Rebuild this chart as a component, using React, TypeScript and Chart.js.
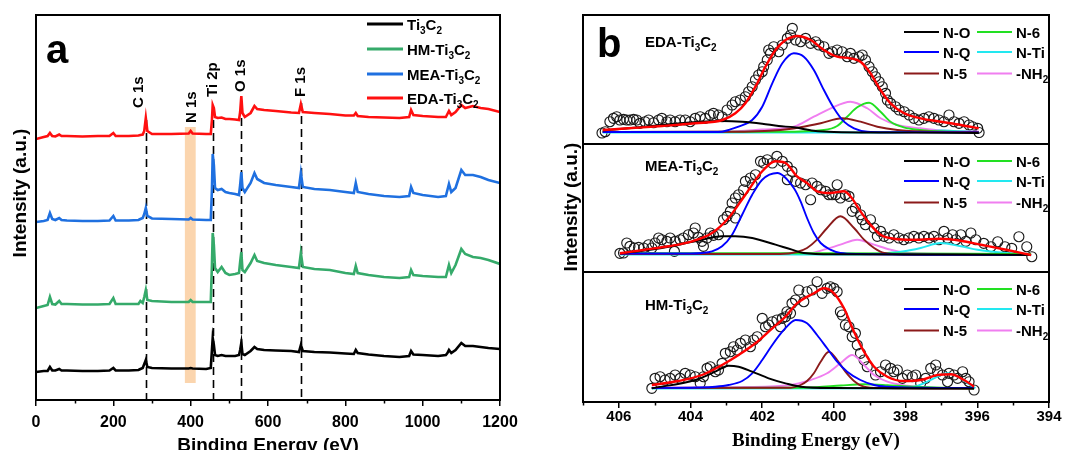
import React, { useEffect, useRef } from "react";
import { Chart, registerables } from "chart.js";

Chart.register(...registerables);

const SANS = "'Liberation Sans', Arial, Helvetica, sans-serif";
const SERIF = "'Liberation Serif', 'Times New Roman', serif";

// ---------------- Panel a : XPS survey ----------------
const surveyEnergy = [0, 20, 30, 36, 42, 50, 60, 66, 80, 120, 160, 190, 200, 206, 240, 265, 270, 276, 280, 284, 288, 300, 350, 395, 400, 405, 440, 452, 455, 457, 460, 463, 470, 480, 490, 500, 515, 525, 528, 531, 534, 540, 555, 565, 572, 590, 620, 660, 680, 685, 690, 720, 760, 800, 822, 827, 832, 860, 900, 940, 965, 970, 976, 1000, 1040, 1060, 1064, 1068, 1074, 1085, 1100, 1110, 1130, 1150, 1170, 1200];
const ti3c2 = [28, 29, 29, 33, 29.5, 29.5, 31, 29.5, 29.5, 29, 29, 29.5, 32, 29.5, 29.5, 30, 31, 32, 36, 40, 33, 32, 31.5, 31.5, 32, 31.5, 31, 32, 50, 62, 55, 45, 44, 45, 44, 44, 44, 45, 50, 57, 46, 45, 49, 53, 51, 50, 49.5, 49, 48, 55, 49, 48, 47.5, 46.5, 46, 50, 47, 45.5, 44, 43, 44, 49, 45.5, 45, 44, 45, 47, 50, 47, 50, 57, 54, 54, 53, 52, 51];
const hmTi3c2 = [92, 94, 95, 103, 96, 95.5, 99, 96, 96, 95.5, 95.5, 96, 102, 96, 96, 96, 99, 97, 103, 110, 100, 99, 98, 98, 100, 98, 98, 98, 135, 167, 155, 132, 128, 133, 127, 125, 126, 127, 138, 148, 130, 128, 137, 145, 139, 137, 135, 133, 132, 147, 133, 131, 130, 127, 126, 134, 127, 125, 123, 122, 123, 130, 125, 124, 123, 123, 129, 135, 127, 135, 151, 146, 143, 142, 140, 136];
const meaTi3c2 = [178, 179, 180, 187, 181, 180, 182, 180, 179.5, 179, 179, 179.5, 184, 179.5, 179.5, 180, 181, 182, 186, 192, 184, 181.5, 181, 180.5, 182, 180.5, 180, 180, 210, 246, 235, 212, 210, 211, 208, 207, 206, 205, 215, 228, 212, 208, 217, 227, 221, 217, 215, 213, 212, 227, 213, 211, 210, 208, 207, 217, 208, 206, 204, 203, 204, 213, 207, 205, 203, 204, 210, 216, 208, 212, 230, 225, 225, 223, 220, 217];
const edaTi3c2 = [261, 263, 264, 267, 264, 263.5, 265.5, 264, 264, 263.5, 264, 264, 267, 264, 264, 264.5, 265, 265.5, 269, 282, 269, 266, 266, 266.5, 269, 266.5, 266, 266, 280, 295, 292, 283, 282, 282.5, 281, 281, 280.5, 280, 288, 304, 287, 283, 287, 294, 291, 290, 289, 287.5, 287, 296, 288, 287, 286, 284.5, 284.5, 287, 284, 283, 282.5, 282, 283, 290, 285, 284, 283, 283, 286, 289, 285, 288, 295, 292, 294, 292, 291, 288];
const surveyNames = ["Ti_3C_2", "HM-Ti_3C_2", "MEA-Ti_3C_2", "EDA-Ti_3C_2"];
const surveyColors = ["#000000", "#35aa6a", "#1f70e0", "#ff1010"];

const peakNames = ["C 1s", "N 1s", "Ti 2p", "O 1s", "F 1s"];
const peakEnergy = [284, 400, 457, 531, 685];
const peakLineTop: (number | null)[] = [280, null, 293, 282, 297];
const peakLabelEnergy = [267, 404, 457, 531, 685];
const peakLabelStart = [292, 277, 303, 308, 303];
const n1sBandEnergy = [385, 413];
const n1sBandIntensity = [17, 273];

// ---------------- Panel b : N 1s fits ----------------
type P = [number, number][];
const compNames = ["N-O", "N-Q", "N-5", "N-6", "N-Ti", "-NH_2"];
const compColors = ["#000000", "#0000ff", "#8b1a1a", "#22e022", "#22e8f0", "#f07ef0"];

// EDA
const edaPoints: P = [
  [406.47, 11], [406.38, 12.3], [406.25, 22.3], [406.15, 25.7], [406.06, 27.3], [405.97, 24], [405.87, 24.7], [405.78, 24], [405.69, 24], [405.59, 24.7],
  [405.5, 24], [405.41, 20.7], [405.27, 22.3], [405.17, 24], [405.03, 21.3], [404.89, 24], [404.8, 25.7], [404.66, 22.3], [404.57, 24], [404.43, 22.3],
  [404.29, 24], [404.15, 24], [404.01, 22.3], [403.87, 25.7], [403.73, 27.3], [403.59, 25.7], [403.45, 29], [403.36, 30.7], [403.22, 29], [403.12, 27.3],
  [402.98, 34], [402.84, 39], [402.75, 42.3], [402.61, 44], [402.47, 47.3], [402.38, 52.3], [402.28, 57.3], [402.19, 64], [402.1, 69], [402, 72.3],
  [401.96, 77.3], [401.86, 84], [401.82, 94], [401.77, 90.7], [401.68, 97.3], [401.54, 92.3], [401.44, 99], [401.3, 105.7], [401.21, 109], [401.16, 115.7],
  [401.07, 104], [400.93, 102.3], [400.79, 105.7], [400.65, 100.7], [400.51, 102.3], [400.42, 99], [400.28, 97.3], [400.14, 90.7], [400.05, 92.3], [399.91, 94],
  [399.77, 92.3], [399.63, 87.3], [399.54, 90.7], [399.44, 85.7], [399.3, 87.3], [399.21, 89], [399.12, 84], [399.02, 77.3], [398.93, 72.3], [398.84, 67.3],
  [398.74, 62.3], [398.65, 57.3], [398.56, 50.7], [398.51, 44], [398.42, 40.7], [398.28, 37.3], [398.18, 34], [398.04, 32.3], [397.9, 29], [397.77, 25.7],
  [397.63, 24], [397.49, 25.7], [397.35, 27.3], [397.21, 25.7], [397.07, 24], [396.93, 22.3], [396.79, 29], [396.65, 22.3], [396.51, 20.7], [396.37, 22.3],
  [396.23, 19], [396.13, 17.3], [395.99, 15.7], [395.95, 11.5],
];
const edaFit: P = [[406.45, 14], [405.74, 15.7], [404.79, 18], [403.87, 20.7], [403.11, 24], [402.75, 30.7], [402.47, 40.7], [402.19, 57.3], [401.91, 77.3], [401.63, 94], [401.35, 104], [401.13, 107.3], [401.03, 108], [400.65, 104], [400.28, 94], [399.91, 87.3], [399.54, 85.7], [399.26, 82.3], [398.98, 70.7], [398.7, 54], [398.42, 40.7], [398.04, 30.7], [397.58, 25.7], [397.02, 22.3], [396.46, 19], [395.96, 15.7]];
const edaNO: P = [[406.45, 13.5], [405.5, 16.5], [404.8, 19], [404, 21.5], [403.12, 23], [402.56, 22.3], [402, 20.3], [401.54, 18], [401.12, 16.7], [400.57, 13.3], [400, 12], [398.5, 11.5], [395.96, 11]];
const edaNQ: P = [[406.45, 12], [403.4, 12], [403.12, 12.3], [402.94, 14], [402.66, 17.3], [402.28, 24], [402, 37.3], [401.72, 60.7], [401.44, 80.7], [401.12, 90.7], [400.84, 87.3], [400.56, 74], [400.28, 54], [400, 35.7], [399.72, 22.3], [399.44, 15.7], [399.07, 12.3], [398.5, 11.8], [395.96, 11.5]];
const edaN5: P = [[406.45, 12], [402.5, 12.3], [401.7, 13.5], [401.31, 14.7], [400.93, 16.7], [400.37, 20.7], [399.77, 25.7], [399.26, 22.3], [398.79, 17.3], [398.23, 14], [397.5, 12.5], [395.96, 12]];
const edaN6: P = [[406.45, 12], [401.5, 12.2], [400.28, 14], [399.91, 18], [399.63, 27.3], [399.35, 36.7], [399.02, 41.3], [398.7, 32.3], [398.42, 22.3], [398.05, 16.7], [397.58, 14], [397, 12.5], [395.96, 12]];
const edaNTi: P = [[406.45, 11.5], [398.5, 11.5], [397.5, 12.5], [397, 13.5], [396.5, 12.8], [395.96, 12]];
const edaNH2: P = [[406.45, 12], [403, 12.5], [402, 14.5], [401.12, 17.3], [400.56, 27.3], [400.09, 35.7], [399.54, 42.3], [399.07, 35.7], [398.7, 25.7], [398.23, 19], [397.58, 15.7], [397, 13.5], [395.96, 12.5]];

// MEA
const meaPoints: P = [
  [405.97, 18.7], [405.87, 19], [405.78, 29], [405.69, 25.7], [405.57, 24], [405.45, 24.7], [405.31, 24], [405.17, 27.3], [405.08, 24], [404.99, 29],
  [404.89, 34], [404.8, 32.3], [404.66, 30.7], [404.57, 34], [404.45, 20.7], [404.43, 30.7], [404.29, 32.3], [404.2, 34], [404.06, 37.3], [403.92, 39],
  [403.87, 44], [403.78, 34.7], [403.68, 30.7], [403.64, 25.7], [403.54, 34], [403.45, 39], [403.36, 36.7], [403.22, 37.3], [403.08, 52.3], [402.98, 55.7],
  [402.89, 60.7], [402.75, 54], [402.84, 69], [402.75, 74], [402.66, 77.3], [402.52, 82.3], [402.47, 90.7], [402.33, 94], [402.28, 87.3], [402.19, 97.3],
  [402.05, 110.7], [401.96, 109], [401.86, 112.3], [401.72, 109], [401.59, 115.7], [401.44, 110.7], [401.3, 105.7], [401.17, 100.7], [401.3, 92.3], [401.07, 90.7],
  [400.93, 89], [400.79, 87.3], [400.65, 72.3], [400.61, 89], [400.47, 85.7], [400.37, 82.3], [400.23, 80.7], [400.14, 77.3], [400.05, 77.3], [399.91, 87.3],
  [399.95, 77.3], [399.82, 74], [399.68, 77.3], [399.58, 75.7], [399.49, 60.7], [399.4, 64], [399.26, 57.3], [399.21, 52.3], [399.12, 47.3], [398.98, 52.3],
  [398.88, 44], [398.79, 35.7], [398.7, 40.7], [398.6, 35.7], [398.46, 34], [398.33, 37.3], [398.19, 34], [398.05, 32.3], [397.91, 34], [397.77, 35.7],
  [397.63, 34], [397.49, 35.7], [397.35, 34], [397.21, 35.7], [397.07, 32.3], [396.93, 40.7], [396.83, 34], [396.69, 37.3], [396.6, 32.3], [396.46, 37.3],
  [396.32, 30.7], [396.18, 39], [396.04, 32.3], [395.82, 28.7], [395.62, 25.3], [395.43, 30.3], [395.23, 25.3], [395.04, 23.7], [394.84, 35.3], [394.62, 25.3],
  [394.48, 15.3],
];
const meaFit: P = [[405.97, 18.7], [405.27, 22.3], [404.62, 25.7], [403.96, 30.7], [403.4, 39], [402.94, 54], [402.47, 77.3], [402, 100.7], [401.63, 110.7], [401.35, 109], [401.03, 95.7], [400.75, 89], [400.47, 80.7], [400.1, 79], [399.72, 80.7], [399.54, 75.7], [399.26, 60.7], [398.98, 47.3], [398.7, 37.3], [398.33, 33.3], [397.77, 32.3], [397.02, 33.3], [396.46, 31.3], [395.9, 27.3], [395.16, 22], [394.5, 17]];
const meaNO: P = [[405.97, 18.7], [405.87, 19], [404.8, 24], [403.87, 30.7], [403.12, 35.7], [402.75, 35.7], [402.28, 34], [401.63, 27.3], [401.17, 22.3], [400.84, 19], [400, 17.7], [397, 17.5], [394.5, 17]];
const meaNQ: P = [[405.97, 18.5], [404, 18.5], [403.68, 19], [403.4, 20.7], [403.12, 25.7], [402.84, 37.3], [402.56, 57.3], [402.28, 77.3], [402, 92.3], [401.58, 99], [401.12, 84], [400.93, 70.7], [400.75, 54], [400.56, 39], [400.37, 29], [400.1, 22.3], [399.82, 19], [399.3, 18], [394.5, 17]];
const meaN5: P = [[405.97, 18], [401.5, 18], [401.03, 20], [400.75, 24], [400.47, 32.3], [400.19, 44], [399.82, 55.7], [399.44, 44], [399.16, 32.3], [398.88, 24], [398.6, 19], [398, 17.5], [394.5, 17]];
const meaN6: P = [[405.97, 18.8], [400, 18.7], [394.5, 18]];
const meaNTi: P = [[405.97, 17.5], [399.5, 17.5], [398.5, 19], [398.04, 20.7], [397.58, 24], [397.02, 29], [396.46, 25.7], [395.99, 22.3], [395.2, 19], [394.5, 17]];
const meaNH2: P = [[405.97, 18], [401.5, 18.3], [400.65, 19], [400.28, 22.3], [399.82, 27.3], [399.35, 32.3], [398.88, 27.3], [398.42, 22.3], [397.95, 19], [397, 18], [394.5, 17.5]];

// HM
const hmPoints: P = [
  [405.08, 13.7], [404.99, 23.7], [404.85, 25.3], [404.71, 22], [404.57, 23.7], [404.43, 27], [404.29, 23.7], [404.15, 28.7], [404.01, 27], [403.87, 25.3],
  [403.73, 18.7], [403.64, 25.3], [403.54, 33.7], [403.45, 35.3], [403.31, 30.3], [403.22, 32], [403.12, 38.7], [403.03, 48.7], [402.89, 50.3], [402.8, 55.3],
  [402.7, 52], [402.61, 58.7], [402.47, 62], [402.33, 55.3], [402.24, 62], [402.14, 65.3], [402, 83.7], [401.91, 75.3], [401.82, 77], [401.72, 80.3],
  [401.59, 82], [401.49, 75.3], [401.44, 83.7], [401.35, 85.3], [401.31, 90.3], [401.21, 88.7], [401.17, 98.7], [401.07, 102], [400.98, 112], [400.84, 100.3],
  [400.75, 110.3], [400.61, 112], [400.47, 120.3], [400.33, 108.7], [400.19, 113.7], [400.1, 115.3], [400, 113.7], [399.91, 110.3], [399.82, 90.3], [399.77, 87],
  [399.68, 77], [399.58, 75.3], [399.49, 65.3], [399.4, 68.7], [399.35, 57], [399.26, 48.7], [399.16, 42], [399.07, 35.3], [398.84, 27], [398.7, 30.3],
  [398.56, 37], [398.42, 33.7], [398.33, 30.3], [398.23, 32], [398.09, 23.7], [397.95, 27], [397.81, 25.3], [397.72, 27], [397.58, 18.7], [397.44, 23.7],
  [397.3, 33.7], [397.16, 37], [397.11, 30.3], [396.97, 27], [396.83, 20.3], [396.79, 28.7], [396.65, 27], [396.55, 23.7], [396.41, 30.3], [396.32, 23.7],
  [396.23, 20.3], [396.09, 12],
];
const hmFit: P = [[405.08, 17], [404.34, 21], [403.68, 27], [403.12, 37], [402.66, 47], [402.19, 58.7], [401.72, 73.7], [401.35, 85.3], [401.03, 98.7], [400.56, 108.7], [400.28, 113.7], [400, 108.7], [399.72, 93.7], [399.44, 70.3], [399.16, 50.3], [398.88, 35.3], [398.51, 25.3], [398.05, 21], [397.58, 22], [397.11, 27], [396.74, 27.7], [396.37, 22], [396.09, 15.3]];
const hmNO: P = [[405.08, 13.7], [403.87, 22], [403.31, 30.3], [402.94, 36.3], [402.66, 35.3], [402.28, 30.3], [401.82, 23.7], [401.35, 18.7], [400.93, 15.3], [400, 14], [396.09, 13.5]];
const hmNQ: P = [[405.08, 14], [403.8, 14.5], [403.31, 15.3], [402.94, 17], [402.56, 21], [402.28, 28.7], [402, 42], [401.72, 57], [401.44, 70.3], [401.17, 80.3], [401.07, 82], [400.75, 78.7], [400.47, 67], [400.19, 53.7], [399.91, 40.3], [399.63, 30.3], [399.26, 22], [398.88, 17], [398.51, 15.3], [397.5, 14.3], [396.09, 14]];
const hmN5: P = [[405.08, 14], [401.2, 14.3], [400.93, 17], [400.75, 21], [400.56, 28.7], [400.37, 40.3], [400.14, 50.3], [399.91, 42], [399.68, 30.3], [399.44, 21], [399.16, 15.3], [398.7, 14], [396.09, 13.5]];
const hmN6: P = [[405.08, 14], [401, 14.2], [400.47, 14.8], [399.8, 16.5], [399.16, 17.7], [398.5, 16.8], [397.77, 15.3], [397, 14.2], [396.09, 13.5]];
const hmNTi: P = [[405.08, 13.5], [398.2, 13.8], [397.77, 15.3], [397.49, 18.7], [397.21, 23.7], [396.83, 28.7], [396.46, 23.7], [396.13, 15.3], [396.05, 14]];
const hmNH2: P = [[405.08, 14.3], [402.5, 15], [401.21, 17], [400.65, 22], [400.19, 28.7], [399.82, 38.7], [399.49, 47], [399.16, 37], [398.88, 27], [398.51, 20.3], [397.95, 16.3], [397.3, 14.3], [396.09, 14]];

const bTicksMajor = [394, 396, 398, 400, 402, 404, 406];

// ---------------- helpers ----------------
function drawRich(ctx: CanvasRenderingContext2D, text: string, x: number, y: number, size: number, family: string, align: "left" | "center" = "left") {
  const segs: { t: string; sub: boolean }[] = [];
  for (let i = 0; i < text.length; i++) {
    if (text[i] === "_" && i + 1 < text.length) {
      segs.push({ t: text[i + 1], sub: true });
      i++;
    } else {
      const last = segs[segs.length - 1];
      if (last && !last.sub) last.t += text[i];
      else segs.push({ t: text[i], sub: false });
    }
  }
  const fN = `bold ${size}px ${family}`;
  const fS = `bold ${Math.round(size * 0.68)}px ${family}`;
  let w = 0;
  for (const s of segs) {
    ctx.font = s.sub ? fS : fN;
    w += ctx.measureText(s.t).width;
  }
  let cx = align === "center" ? x - w / 2 : x;
  ctx.textAlign = "left";
  ctx.textBaseline = "alphabetic";
  for (const s of segs) {
    ctx.font = s.sub ? fS : fN;
    ctx.fillText(s.t, cx, s.sub ? y + size * 0.27 : y);
    cx += ctx.measureText(s.t).width;
  }
}

function frame(ctx: CanvasRenderingContext2D, a: any) {
  ctx.save();
  ctx.strokeStyle = "#000";
  ctx.lineWidth = 2;
  ctx.strokeRect(a.left, a.top, a.right - a.left, a.bottom - a.top);
  ctx.restore();
}

// ---------------- Panel a chart ----------------
function SurveyChart() {
  const ref = useRef<HTMLCanvasElement>(null);
  useEffect(() => {
    const series = [ti3c2, hmTi3c2, meaTi3c2, edaTi3c2];
    const datasets = series.map((vals, i) => ({
      label: surveyNames[i],
      data: surveyEnergy.map((e, k) => ({ x: e, y: vals[k] })),
      borderColor: surveyColors[i],
      borderWidth: 2.6,
      pointRadius: 0,
      tension: 0,
    }));
    const deco = {
      id: "surveyDeco",
      beforeDatasetsDraw(chart: any) {
        const { ctx, chartArea: a, scales } = chart;
        const x = scales.x, y = scales.y;
        ctx.save();
        const x0 = x.getPixelForValue(n1sBandEnergy[0]);
        const x1 = x.getPixelForValue(n1sBandEnergy[1]);
        const yt = y.getPixelForValue(n1sBandIntensity[1]);
        const yb = y.getPixelForValue(n1sBandIntensity[0]);
        ctx.fillStyle = "#fbd5ae";
        ctx.fillRect(x0, yt, x1 - x0, yb - yt);
        ctx.strokeStyle = "#000";
        ctx.lineWidth = 1.6;
        ctx.setLineDash([8, 5]);
        peakEnergy.forEach((e, i) => {
          const top = peakLineTop[i];
          if (top == null) return;
          const px = Math.round(x.getPixelForValue(e)) + 0.5;
          ctx.beginPath();
          ctx.moveTo(px, y.getPixelForValue(top));
          ctx.lineTo(px, a.bottom);
          ctx.stroke();
        });
        ctx.restore();
      },
      afterDraw(chart: any) {
        const { ctx, chartArea: a, scales } = chart;
        const x = scales.x, y = scales.y;
        frame(ctx, a);
        ctx.save();
        ctx.strokeStyle = "#000";
        ctx.lineWidth = 1.5;
        for (let e = 100; e < 1200; e += 200) {
          const px = Math.round(x.getPixelForValue(e)) + 0.5;
          ctx.beginPath();
          ctx.moveTo(px, a.bottom);
          ctx.lineTo(px, a.bottom + 3.5);
          ctx.stroke();
        }
        ctx.fillStyle = "#000";
        ctx.font = `bold 15px ${SANS}`;
        peakNames.forEach((n, i) => {
          const px = x.getPixelForValue(peakLabelEnergy[i]);
          const py = y.getPixelForValue(peakLabelStart[i]);
          ctx.save();
          ctx.translate(px, py);
          ctx.rotate(-Math.PI / 2);
          ctx.textAlign = "left";
          ctx.textBaseline = "middle";
          ctx.fillText(n, 0, 0);
          ctx.restore();
        });
        // legend
        const rows = [24, 49, 74, 98];
        surveyNames.forEach((n, i) => {
          ctx.strokeStyle = surveyColors[i];
          ctx.lineWidth = 3;
          ctx.beginPath();
          ctx.moveTo(367, rows[i]);
          ctx.lineTo(403, rows[i]);
          ctx.stroke();
          ctx.fillStyle = "#000";
          drawRich(ctx, n, 407, rows[i] + 5.5, 15, SANS);
        });
        // panel letter
        ctx.fillStyle = "#000";
        ctx.font = `bold 40px ${SANS}`;
        ctx.textAlign = "left";
        ctx.textBaseline = "alphabetic";
        ctx.fillText("a", 46, 63);
        // titles
        ctx.font = `bold 19px ${SANS}`;
        ctx.textAlign = "center";
        ctx.fillText("Binding Energy (eV)", (a.left + a.right) / 2, 451);
        ctx.save();
        ctx.translate(21, 193);
        ctx.rotate(-Math.PI / 2);
        ctx.textBaseline = "middle";
        ctx.fillText("Intensity (a.u.)", 0, 0);
        ctx.restore();
        ctx.restore();
      },
    };
    const chart = new Chart(ref.current as HTMLCanvasElement, {
      type: "line",
      data: { datasets },
      options: {
        responsive: false,
        animation: false,
        devicePixelRatio: 1,
        layout: { padding: { left: 36, top: 15, right: 40, bottom: 0 } },
        plugins: { legend: { display: false }, tooltip: { enabled: false } },
        scales: {
          x: {
            type: "linear",
            min: 0,
            max: 1200,
            ticks: { stepSize: 200, color: "#000", padding: 7, maxRotation: 0, font: { family: SANS, size: 16, weight: "bold" }, callback: (v: any) => String(v) },
            grid: { drawOnChartArea: false, drawTicks: true, tickLength: 6, color: "#000", lineWidth: 1.5 },
            border: { display: false },
            afterFit: (s: any) => { s.height = 50; },
          },
          y: { display: false, min: 0, max: 385 },
        },
      } as any,
      plugins: [deco],
    });
    return () => chart.destroy();
  }, []);
  return <canvas ref={ref} width={540} height={450} style={{ position: "absolute", left: 0, top: 0, width: 540, height: 450 }} />;
}

// ---------------- Panel b charts ----------------
type Sub = {
  name: string;
  points: P;
  fit: P;
  comps: P[];
  top: number;
  bottomPad: number;
  yMax: number;
  showAxis: boolean;
  labelDy: number;
  first: boolean;
};

const subs: Sub[] = [
  { name: "EDA-Ti_3C_2", points: edaPoints, fit: edaFit, comps: [edaNO, edaNQ, edaN5, edaN6, edaNTi, edaNH2], top: 15, bottomPad: 306, yMax: 129, showAxis: false, labelDy: 32, first: true },
  { name: "MEA-Ti_3C_2", points: meaPoints, fit: meaFit, comps: [meaNO, meaNQ, meaN5, meaN6, meaNTi, meaNH2], top: 144, bottomPad: 178, yMax: 128, showAxis: false, labelDy: 27, first: false },
  { name: "HM-Ti_3C_2", points: hmPoints, fit: hmFit, comps: [hmNO, hmNQ, hmN5, hmN6, hmNTi, hmNH2], top: 272, bottomPad: 0, yMax: 130, showAxis: true, labelDy: 38, first: false },
];

function FitChart({ sub }: { sub: Sub }) {
  const ref = useRef<HTMLCanvasElement>(null);
  useEffect(() => {
    const toXY = (p: P) => p.map(([x, y]) => ({ x, y }));
    const datasets: any[] = [
      { label: "fit", data: toXY(sub.fit), borderColor: "#ff0000", borderWidth: 2.4, pointRadius: 0, cubicInterpolationMode: "monotone" },
      ...sub.comps.map((c, i) => ({ label: compNames[i], data: toXY(c), borderColor: compColors[i], borderWidth: 1.9, pointRadius: 0, cubicInterpolationMode: "monotone" })),
      { label: "data", data: toXY(sub.points), showLine: false, pointRadius: 5, pointBorderWidth: 1.15, pointBorderColor: "#1a1a1a", pointBackgroundColor: "rgba(0,0,0,0)" },
    ];
    const deco = {
      id: "fitDeco",
      afterDraw(chart: any) {
        const { ctx, chartArea: a, scales } = chart;
        frame(ctx, a);
        ctx.save();
        ctx.fillStyle = "#000";
        drawRich(ctx, sub.name, 645 - 540, a.top + sub.labelDy, 15, SANS);
        const rows = [17, 37, 58.5];
        const cols = [[904, 939, 943], [977, 1012, 1016]];
        for (let c = 0; c < 2; c++) {
          for (let r = 0; r < 3; r++) {
            const k = c * 3 + r;
            const yy = a.top + rows[r];
            const [l0, l1, tx] = cols[c].map((v) => v - 540);
            ctx.strokeStyle = compColors[k];
            ctx.lineWidth = 2.2;
            ctx.beginPath();
            ctx.moveTo(l0, yy);
            ctx.lineTo(l1, yy);
            ctx.stroke();
            ctx.fillStyle = "#000";
            drawRich(ctx, compNames[k], tx, yy + 5.5, 15, SANS);
          }
        }
        if (sub.first) {
          ctx.fillStyle = "#000";
          ctx.font = `bold 40px ${SANS}`;
          ctx.textAlign = "left";
          ctx.textBaseline = "alphabetic";
          ctx.fillText("b", 57, 57);
          ctx.font = `bold 19px ${SANS}`;
          ctx.save();
          ctx.translate(32, 207);
          ctx.rotate(-Math.PI / 2);
          ctx.textAlign = "center";
          ctx.textBaseline = "middle";
          ctx.fillText("Intensity (a.u.)", 0, 0);
          ctx.restore();
        }
        if (sub.showAxis) {
          const x = scales.x;
          ctx.strokeStyle = "#000";
          ctx.lineWidth = 1.5;
          for (let e = 395; e <= 407; e += 2) {
            const px = Math.round(x.getPixelForValue(e)) + 0.5;
            ctx.beginPath();
            ctx.moveTo(px, a.bottom);
            ctx.lineTo(px, a.bottom + 3.5);
            ctx.stroke();
          }
          ctx.fillStyle = "#000";
          ctx.font = `bold 19px ${SERIF}`;
          ctx.textAlign = "center";
          ctx.textBaseline = "alphabetic";
          ctx.fillText("Binding Energy (eV)", (a.left + a.right) / 2, 446);
        }
        ctx.restore();
      },
    };
    const xScale: any = {
      type: "linear",
      display: sub.showAxis,
      min: 394,
      max: 407,
      reverse: true,
    };
    if (sub.showAxis) {
      xScale.afterBuildTicks = (s: any) => { s.ticks = bTicksMajor.map((v) => ({ value: v })); };
      xScale.ticks = { color: "#000", padding: 0, maxRotation: 0, font: { family: SANS, size: 15, weight: "bold" }, callback: (v: any) => String(v) };
      xScale.grid = { drawOnChartArea: false, drawTicks: true, tickLength: 6, color: "#000", lineWidth: 1.5 };
      xScale.border = { display: false };
      xScale.afterFit = (s: any) => { s.height = 48; };
    }
    const chart = new Chart(ref.current as HTMLCanvasElement, {
      type: "line",
      data: { datasets },
      options: {
        responsive: false,
        animation: false,
        devicePixelRatio: 1,
        layout: { padding: { left: 43, right: 30, top: sub.top, bottom: sub.bottomPad } },
        plugins: { legend: { display: false }, tooltip: { enabled: false } },
        scales: {
          x: xScale,
          y: { display: false, min: 0, max: sub.yMax },
        },
      } as any,
      plugins: [deco],
    });
    return () => chart.destroy();
  }, [sub]);
  return <canvas ref={ref} width={539} height={450} style={{ position: "absolute", left: 540, top: 0, width: 539, height: 450 }} />;
}

export default function App() {
  return (
    <div style={{ position: "absolute", left: 0, top: 0, width: 1079, height: 450, background: "#fff", overflow: "hidden" }}>
      <SurveyChart />
      {subs.map((s) => (
        <FitChart key={s.name} sub={s} />
      ))}
    </div>
  );
}
